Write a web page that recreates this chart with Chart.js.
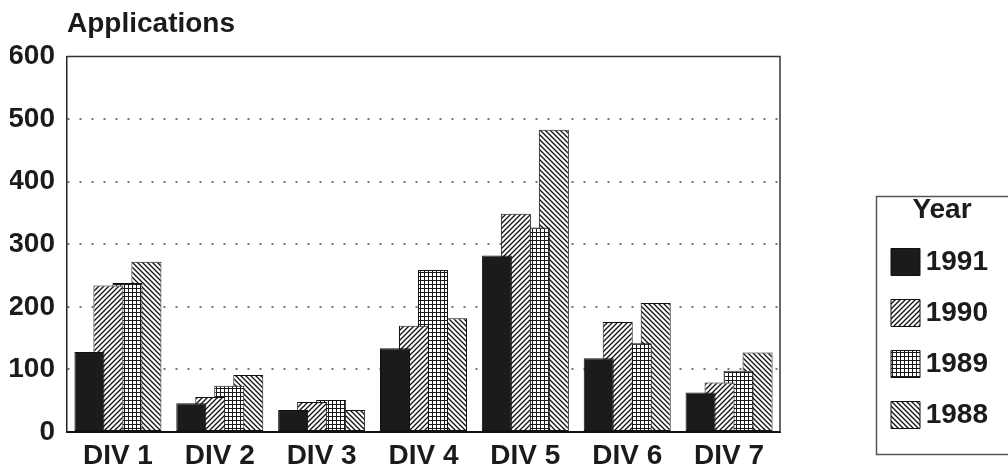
<!DOCTYPE html>
<html>
<head>
<meta charset="utf-8">
<title>Applications by division</title>
<script src="https://cdn.jsdelivr.net/npm/chart.js@4/dist/chart.umd.min.js"></script>
<style>
  html, body { margin: 0; padding: 0; background: #ffffff; }
  #wrap { width: 1008px; height: 471px; }
</style>
</head>
<body>
<div id="wrap"><canvas id="c" width="1008" height="471"></canvas></div>
<script>
// Applications received per division, by year
const categories = ['DIV 1', 'DIV 2', 'DIV 3', 'DIV 4', 'DIV 5', 'DIV 6', 'DIV 7'];
const years = ['1991', '1990', '1989', '1988'];
const apps1991 = [128, 46, 35, 134, 282, 118, 63];
const apps1990 = [234, 56, 48, 170, 349, 176, 79];
const apps1989 = [238, 74, 51, 259, 327, 142, 98];
const apps1988 = [272, 91, 35, 182, 483, 206, 127];
const yTicks = [0, 100, 200, 300, 400, 500, 600];

const FONT = '"Liberation Sans", Arial, Helvetica, sans-serif';
const INK = '#1b1a1c';

const canvas = document.getElementById('c');
const ctx = canvas.getContext('2d');

// Monochrome fill patterns for the bars
function makeFill(kind) {
  const s = kind === 'grid' ? 4 : 5;
  const t = document.createElement('canvas');
  t.width = s; t.height = s;
  const g = t.getContext('2d');
  g.fillStyle = '#ffffff';
  g.fillRect(0, 0, s, s);
  g.fillStyle = INK;
  g.strokeStyle = '#111111';
  g.lineWidth = 1.3;
  if (kind === 'grid') {
    g.fillRect(0, 0, s, 1);
    g.fillRect(0, 0, 1, s);
  } else {
    g.beginPath();
    if (kind === 'fwd') {
      g.moveTo(-1, s + 1); g.lineTo(s + 1, -1);
      g.moveTo(-1, 1); g.lineTo(1, -1);
      g.moveTo(s - 1, s + 1); g.lineTo(s + 1, s - 1);
    } else {
      g.moveTo(-1, -1); g.lineTo(s + 1, s + 1);
      g.moveTo(-1, s - 1); g.lineTo(1, s + 1);
      g.moveTo(s - 1, -1); g.lineTo(s + 1, 1);
    }
    g.stroke();
  }
  return ctx.createPattern(t, 'repeat');
}

const fills = [INK, makeFill('fwd'), makeFill('grid'), makeFill('back')];
const seriesValues = [apps1991, apps1990, apps1989, apps1988];

const datasets = years.map((y, i) => ({
  label: y,
  data: seriesValues[i],
  backgroundColor: fills[i],
  borderColor: '#111111',
  borderWidth: 1,
  borderSkipped: false,
  categoryPercentage: 0.746,
  barPercentage: 1.58
}));

// Box around the plot area and around the legend
const frames = {
  id: 'frames',
  afterLayout(chart) {
    const lg = chart.legend;
    if (!lg) return;
    lg.left = 868;
    lg.width = 148;
    lg.right = 988;
    lg.top = 196;
    lg.bottom = 470;
    lg.height = lg.bottom - lg.top;
  },
  afterDraw(chart) {
    const a = chart.chartArea;
    const c = chart.ctx;
    c.save();
    c.strokeStyle = '#333333';
    c.lineWidth = 1.5;
    c.beginPath();
    c.moveTo(a.left, a.top);
    c.lineTo(a.right, a.top);
    c.lineTo(a.right, a.bottom);
    c.stroke();
    c.strokeStyle = '#555555';
    c.lineWidth = 1.5;
    c.strokeRect(876.5, 196.5, 140, 258);
    c.restore();
  }
};

new Chart(canvas, {
  type: 'bar',
  data: { labels: categories, datasets },
  plugins: [frames],
  options: {
    responsive: false,
    animation: false,
    devicePixelRatio: 1,
    layout: { padding: { left: 10, right: 228, top: 0, bottom: 0 } },
    scales: {
      x: {
        afterFit(scale) { scale.height = 39; },
        grid: { display: false, drawTicks: false },
        border: { display: true, color: '#111111', width: 2 },
        ticks: { color: INK, padding: 7, font: { family: FONT, size: 28, weight: 'bold' } }
      },
      y: {
        min: 0,
        max: 600,
        afterFit(scale) { scale.width = 57; },
        afterBuildTicks(scale) { scale.ticks = yTicks.map(v => ({ value: v })); },
        grid: {
          drawTicks: false,
          lineWidth: 2,
          color: c => (c.tick && (c.tick.value === 0 || c.tick.value === 600)) ? 'rgba(0,0,0,0)' : 'rgba(70,70,70,0.75)'
        },
        border: { display: true, color: '#222222', width: 1.5, dash: [2, 10] },
        ticks: { color: INK, padding: 12, font: { family: FONT, size: 28, weight: 'bold' } }
      }
    },
    plugins: {
      tooltip: { enabled: false },
      title: {
        display: true,
        text: 'Applications',
        align: 'start',
        fullSize: false,
        color: INK,
        font: { family: FONT, size: 28, weight: 'bold' },
        padding: { top: 7, bottom: 16 }
      },
      legend: {
        display: true,
        position: 'chartArea',
        align: 'start',
        title: {
          display: true,
          text: 'Year',
          color: INK,
          font: { family: FONT, size: 28, weight: 'bold', lineHeight: 1 },
          padding: { top: 0, bottom: 1 }
        },
        labels: {
          color: INK,
          boxWidth: 29,
          boxHeight: 27,
          padding: 23,
          textAlign: 'right',
          font: { family: FONT, size: 28, weight: 'bold' }
        }
      }
    }
  }
});
</script>
</body>
</html>
